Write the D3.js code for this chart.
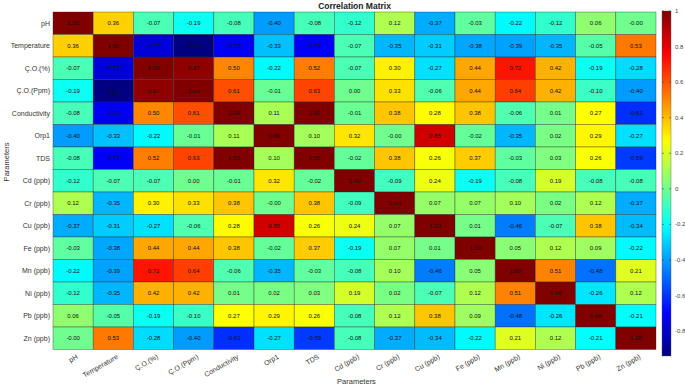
<!DOCTYPE html>
<html><head><meta charset="utf-8">
<script src="https://cdn.jsdelivr.net/npm/d3@7/dist/d3.min.js"></script>
<style>
body{margin:0;background:#fff;}
svg{font-family:"Liberation Sans",Arial,sans-serif;}
</style></head>
<body><svg id="c" width="685" height="387"></svg>
<script>
const labels = ["pH","Temperature","Ç.O.(%)","Ç.O.(Ppm)","Conductivity","Orp1","TDS","Cd (ppb)","Cr (ppb)","Cu (ppb)","Fe (ppb)","Mn (ppb)","Ni (ppb)","Pb (ppb)","Zn (ppb)"];
const rowPH          = [1.00, 0.36,-0.07,-0.19,-0.08,-0.40,-0.08,-0.12, 0.12,-0.37,-0.03,-0.22,-0.12, 0.06,-0.00];
const rowTemperature = [0.36, 1.00,-0.77,-0.94,-0.72,-0.33,-0.71,-0.07,-0.35,-0.31,-0.38,-0.39,-0.35,-0.05, 0.53];
const rowCOpct       = [-0.07,-0.77, 1.00, 0.97, 0.50,-0.22, 0.52,-0.07, 0.30,-0.27, 0.44, 0.72, 0.42,-0.19,-0.28];
const rowCOppm       = [-0.19,-0.94, 0.97, 1.00, 0.61,-0.01, 0.63, 0.00, 0.33,-0.06, 0.44, 0.64, 0.42,-0.10,-0.40];
const rowCond        = [-0.08,-0.72, 0.50, 0.61, 1.00, 0.11, 1.00,-0.01, 0.38, 0.28, 0.38,-0.06, 0.01, 0.27,-0.61];
const rowOrp1        = [-0.40,-0.33,-0.22,-0.01, 0.11, 1.00, 0.10, 0.32,-0.00, 0.85,-0.02,-0.35, 0.02, 0.29,-0.27];
const rowTDS         = [-0.08,-0.71, 0.52, 0.63, 1.00, 0.10, 1.00,-0.02, 0.38, 0.26, 0.37,-0.03, 0.03, 0.26,-0.59];
const rowCd          = [-0.12,-0.07,-0.07, 0.00,-0.01, 0.32,-0.02, 1.00,-0.09, 0.24,-0.19,-0.08, 0.19,-0.08,-0.08];
const rowCr          = [0.12,-0.35, 0.30, 0.33, 0.38,-0.00, 0.38,-0.09, 1.00, 0.07, 0.07, 0.10, 0.02, 0.12,-0.37];
const rowCu          = [-0.37,-0.31,-0.27,-0.06, 0.28, 0.85, 0.26, 0.24, 0.07, 1.00, 0.01,-0.46,-0.07, 0.38,-0.34];
const rowFe          = [-0.03,-0.38, 0.44, 0.44, 0.38,-0.02, 0.37,-0.19, 0.07, 0.01, 1.00, 0.05, 0.12, 0.09,-0.22];
const rowMn          = [-0.22,-0.39, 0.72, 0.64,-0.06,-0.35,-0.03,-0.08, 0.10,-0.46, 0.05, 1.00, 0.51,-0.48, 0.21];
const rowNi          = [-0.12,-0.35, 0.42, 0.42, 0.01, 0.02, 0.03, 0.19, 0.02,-0.07, 0.12, 0.51, 1.00,-0.26, 0.12];
const rowPb          = [0.06,-0.05,-0.19,-0.10, 0.27, 0.29, 0.26,-0.08, 0.12, 0.38, 0.09,-0.48,-0.26, 1.00,-0.21];
const rowZn          = [-0.00, 0.53,-0.28,-0.40,-0.61,-0.27,-0.59,-0.08,-0.37,-0.34,-0.22, 0.21, 0.12,-0.21, 1.00];
const colorbarTicks = [1, 0.8, 0.6, 0.4, 0.2, 0, -0.2, -0.4, -0.6, -0.8];

const matrix = [rowPH,rowTemperature,rowCOpct,rowCOppm,rowCond,rowOrp1,rowTDS,rowCd,rowCr,rowCu,rowFe,rowMn,rowNi,rowPb,rowZn];
const cells = [];
matrix.forEach((r,i)=>r.forEach((v,j)=>cells.push({row:labels[i],col:labels[j],v})));

const vmin = d3.min(cells,d=>d.v), vmax = d3.max(cells,d=>d.v);
const fmt = v => (v<0 || Object.is(v,-0)) ? "-"+Math.abs(v).toFixed(2) : v.toFixed(2);

function jet(t){
  t=Math.max(0,Math.min(1,t));
  const c=(x)=>Math.max(0,Math.min(1,x));
  const r=c(Math.min(4*t-1.5,-4*t+4.5));
  const g=c(Math.min(4*t-0.5,-4*t+3.5));
  const b=c(Math.min(4*t+0.5,-4*t+2.5));
  return d3.rgb(r*255,g*255,b*255);
}
const color = v => jet((v-vmin)/(vmax-vmin));

const svg = d3.select("#c");
const gLeft=53, gRight=656, gTop=12, gBottom=349.5;
const x = d3.scaleBand().domain(labels).range([gLeft,gRight]);
const y = d3.scaleBand().domain(labels).range([gTop,gBottom]);

svg.append("g").selectAll("rect").data(cells).join("rect")
  .attr("x",d=>x(d.col)).attr("y",d=>y(d.row))
  .attr("width",x.bandwidth()).attr("height",y.bandwidth())
  .attr("fill",d=>color(d.v))
  .attr("stroke","#2a2a2a").attr("stroke-opacity",0.6).attr("stroke-width",0.6);

svg.append("g").selectAll("text").data(cells).join("text")
  .attr("x",d=>x(d.col)+x.bandwidth()/2).attr("y",d=>y(d.row)+y.bandwidth()/2)
  .attr("text-anchor","middle").attr("dominant-baseline","central")
  .attr("font-size",6).attr("fill","#111")
  .text(d=>fmt(d.v));

svg.append("g").selectAll("text").data(labels).join("text")
  .attr("x",50).attr("y",d=>y(d)+y.bandwidth()/2)
  .attr("text-anchor","end").attr("dominant-baseline","central")
  .attr("font-size",7).attr("fill","#333").text(d=>d);

svg.append("g").selectAll("text").data(labels).join("text")
  .attr("transform",d=>`translate(${x(d)+x.bandwidth()/2+4},${356}) rotate(-30)`)
  .attr("text-anchor","end").attr("dominant-baseline","central")
  .attr("font-size",7).attr("fill","#333").text(d=>d);

svg.append("text").attr("x",(gLeft+gRight)/2).attr("y",9)
  .attr("text-anchor","middle").attr("font-size",8.5).attr("font-weight","bold")
  .attr("fill","#222").text("Correlation Matrix");

svg.append("text").attr("x",(gLeft+gRight)/2+2).attr("y",384)
  .attr("text-anchor","middle").attr("font-size",7.5).attr("fill","#333").text("Parameters");
svg.append("text").attr("transform","translate(9,162) rotate(-90)")
  .attr("text-anchor","middle").attr("font-size",7.5).attr("fill","#333").text("Parameters");

const cbX=662, cbW=9, cbTop=11, cbBot=356;
const cy = d3.scaleLinear().domain([vmin,vmax]).range([cbBot,cbTop]);
const defs = svg.append("defs");
const grad = defs.append("linearGradient").attr("id","jetg").attr("x1",0).attr("y1",1).attr("x2",0).attr("y2",0);
d3.range(0,1.0001,0.02).forEach(t=>grad.append("stop").attr("offset",t).attr("stop-color",jet(t)));
svg.append("rect").attr("x",cbX).attr("y",cbTop).attr("width",cbW).attr("height",cbBot-cbTop)
  .attr("fill","url(#jetg)").attr("stroke","#555").attr("stroke-width",0.4);
const tg = svg.append("g").selectAll("g").data(colorbarTicks).join("g")
  .attr("transform",d=>`translate(0,${cy(d)})`);
tg.append("line").attr("x1",cbX+cbW-2).attr("x2",cbX+cbW).attr("stroke","#333").attr("stroke-width",0.5);
tg.append("line").attr("x1",cbX).attr("x2",cbX+2).attr("stroke","#333").attr("stroke-width",0.5);
tg.append("text").attr("x",cbX+cbW+4).attr("dominant-baseline","central")
  .attr("font-size",6).attr("fill","#444").text(d=>String(d));
</script></body></html>
